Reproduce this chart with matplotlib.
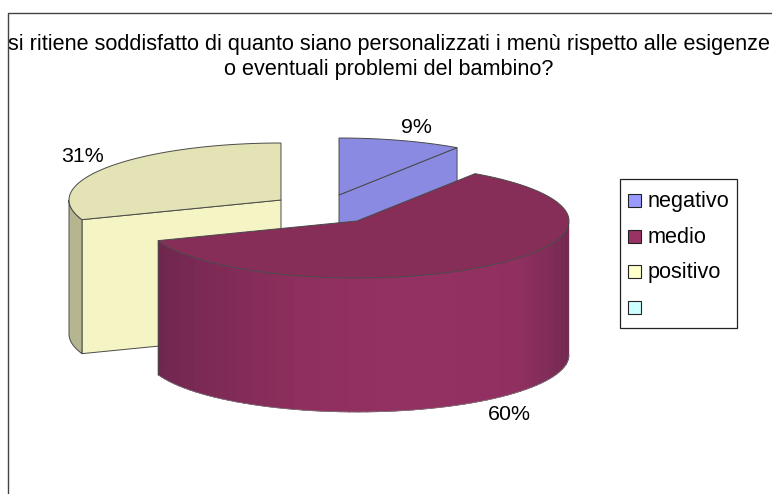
import numpy as np
import matplotlib
matplotlib.use('Agg')
import matplotlib.pyplot as plt
from matplotlib.patches import Polygon, Rectangle

plt.rcParams['font.family'] = ['Liberation Sans', 'DejaVu Sans']

title = 'si ritiene soddisfatto di quanto siano personalizzati i menù rispetto alle esigenze\no eventuali problemi del bambino?'
categories = ['negativo', 'medio', 'positivo', '']
# estimated from the slice edges, the printed labels are rounded
percent = [9.4, 60, 30.6]
pct_labels = ['9%', '60%', '31%']
legend_colors = ['#9999ff', '#993366', '#ffffcc', '#ccffff']

# pie geometry in pixels
rx = 212
ry = 57
depth = 134
centers = [(339, 195), (357, 221), (281, 200)]
label_pos = [(416, 127), (509, 414), (83, 156)]
edge = '#4a4a4a'

fig = plt.figure(figsize=(7.72, 4.94), dpi=100)
ax = fig.add_axes([0, 0, 1, 1])
ax.set_xlim(0, 772)
ax.set_ylim(494, 0)
ax.axis('off')

# slice angles, clockwise from the top
angles = [90.0]
for p in percent:
    angles.append(angles[-1] - p * 3.6)


def arc(c, a0, a1, n=120):
    t = np.radians(np.linspace(a0, a1, n))
    return np.column_stack([c[0] + rx * np.cos(t), c[1] - ry * np.sin(t)])


def wall(pts, color, z, ec='none', lw=0):
    low = pts[::-1] + [0, depth]
    ax.add_patch(Polygon(np.vstack([pts, low]), closed=True, fc=color, ec=ec, lw=lw, zorder=z))


def top(c, a0, a1, color, z):
    pts = np.vstack([[c], arc(c, a0, a1)])
    ax.add_patch(Polygon(pts, closed=True, fc=color, ec=edge, lw=0.7, zorder=z))


# positive slice, at the back left
c = np.array(centers[2], float)
a0, a1 = angles[2], angles[3]
end = arc(c, a0, a0, 1)[0]
wall(np.array([c, end]), '#f4f4c4', 1, edge, 0.7)
wall(arc(c, a0, -180, 40), '#b5b58f', 1.5, edge, 0.7)
top(c, a0, a1, '#e3e3b5', 2)

# negative slice
c = np.array(centers[0], float)
a0, a1 = angles[0], angles[1]
end = arc(c, a1, a1, 1)[0]
wall(np.array([c, end]), '#8a8ae2', 3, edge, 0.7)
top(c, a0, a1, '#8a8ae2', 4)

# medio slice, front wall in shaded strips
c = np.array(centers[1], float)
a0, a1 = angles[1], angles[2]
xs_stop = [158, 205, 300, 400, 520, 550, 569]
r_stop = [0x6e, 0x7c, 0x8e, 0x94, 0x90, 0x80, 0x72]
g_stop = [0x27, 0x2a, 0x2f, 0x31, 0x30, 0x2c, 0x28]
b_stop = [0x4e, 0x55, 0x5e, 0x63, 0x60, 0x58, 0x50]
strip = np.arange(a1, 0.01, 2.5)
for s0, s1 in zip(strip[:-1], strip[1:]):
    pts = arc(c, s0, s1 + 0.4, 5)
    xm = pts[:, 0].mean()
    col = (np.interp(xm, xs_stop, r_stop) / 255, np.interp(xm, xs_stop, g_stop) / 255,
           np.interp(xm, xs_stop, b_stop) / 255)
    wall(pts, col, 5, col, 0.4)
front = arc(c, a1, 0)
ax.plot(front[:, 0], front[:, 1] + depth, color='#777777', lw=0.5, zorder=5.5)
ax.plot([front[0, 0]] * 2, [front[0, 1], front[0, 1] + depth], color=edge, lw=0.5, zorder=5.5)
top(c, a0, a1, '#862d58', 6)

for txt, (x, y) in zip(pct_labels, label_pos):
    ax.text(x, y, txt, fontsize=15.4, ha='center', va='center', color='black', zorder=8)

# outer frame, runs off the image at right and bottom
ax.plot([7.5, 7.5, 772], [494, 13.5, 13.5], color='#444444', lw=1.0, zorder=9, clip_on=False)
ax.text(389, 57, title, fontsize=15.6, ha='center', va='center', linespacing=1.27, color='black', zorder=8)

# legend
ax.add_patch(Rectangle((620, 178.5), 117, 149, fc='white', ec='#222222', lw=0.9, zorder=7))
leg_y = [200, 236, 271, 307]
for name, col, y in zip(categories, legend_colors, leg_y):
    ax.add_patch(Rectangle((627.5, y - 6.5), 13, 13, fc=col, ec='#222222', lw=0.8, zorder=8))
    ax.text(648, y + 1, name, fontsize=15.6, ha='left', va='center', color='black', zorder=8)

fig.savefig('out.png', dpi=100)
